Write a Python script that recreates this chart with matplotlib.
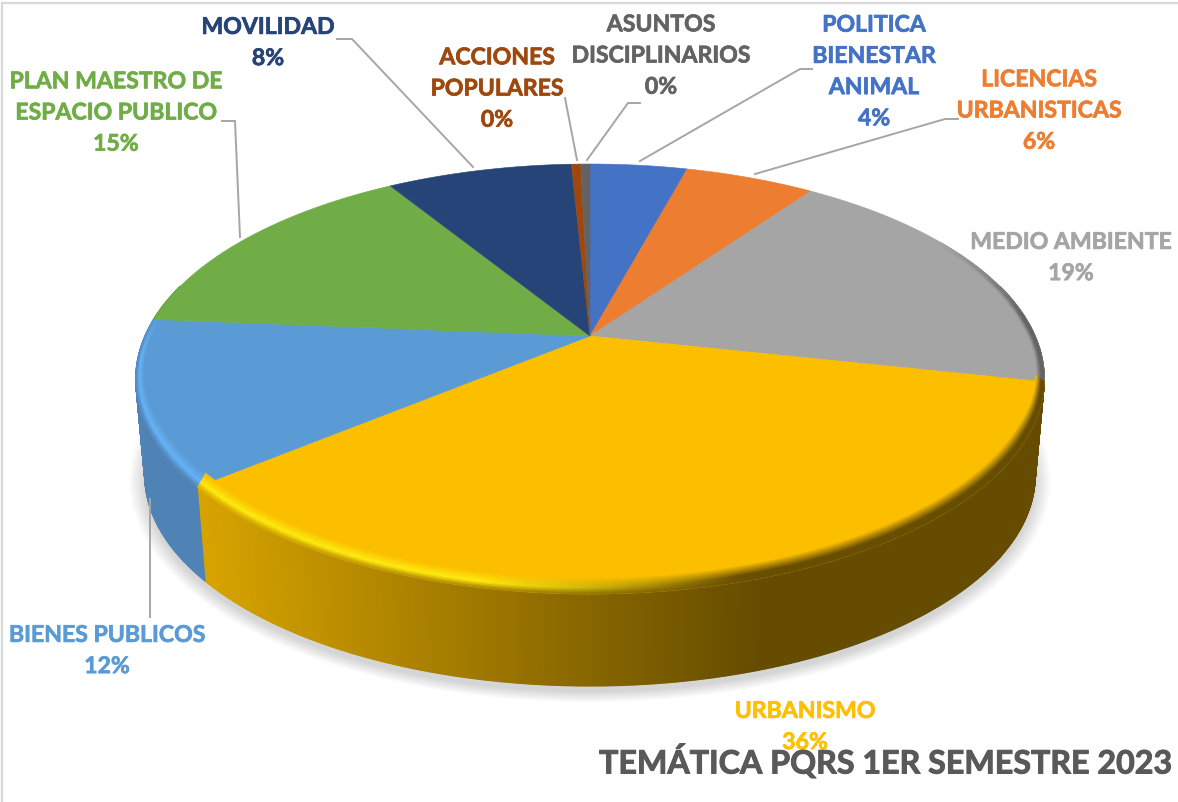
#!/usr/bin/env python3
"""Tematica PQRS pie, drawn as a tilted 3D disc."""

import matplotlib

matplotlib.use("Agg")
import matplotlib.patheffects as pe
import matplotlib.pyplot as plt
import numpy as np
from matplotlib.collections import PolyCollection
from matplotlib.patches import Polygon

plt.rcParams["font.family"] = ["Lato", "DejaVu Sans"]

# clockwise from twelve o'clock
categories = [
    "POLITICA\nBIENESTAR\nANIMAL",
    "LICENCIAS\nURBANISTICAS",
    "MEDIO AMBIENTE",
    "URBANISMO",
    "BIENES PUBLICOS",
    "PLAN MAESTRO DE\nESPACIO PUBLICO",
    "MOVILIDAD",
    "ACCIONES\nPOPULARES",
    "ASUNTOS\nDISCIPLINARIOS",
]
values = [4.2, 5.6, 18.6, 35.6, 12.3, 14.9, 8.0, 0.4, 0.4]
colors = ["#4472C4", "#ED7D31", "#A5A5A5", "#FBBF00", "#5B9BD5", "#70AD47", "#264478", "#9E480E", "#636363"]
text_colors = ["#4472C4", "#ED7D31", "#A5A5A5", "#FFC000", "#5B9BD5", "#70AD47", "#264478", "#9E480E", "#636363"]
bright = ["#5A90F0", "#FF9A40", "#C8C8C8", "#FFEC10", "#66B4F8", "#88D055", "#3060A0", "#C06010", "#808080"]
side_left = ["#3A62A8", "#C96A28", "#8C8C8C", "#D6A300", "#4F82B5", "#5F933C", "#203A66", "#863D0C", "#545454"]
side_right = ["#2A4680", "#904C1C", "#646464", "#654C00", "#4F82B5", "#446B2B", "#172A4A", "#602C08", "#3C3C3C"]
title = "TEMÁTICA PQRS 1ER SEMESTRE 2023"

label_pos = [(874, 73), (1039, 112), (1071, 259), (805, 728), (107, 652), (116, 114), (268, 44), (497, 90), (661, 57)]
leaders = [
    [(812, 70), (800, 70), (640, 162)],
    [(958, 120), (945, 120), (755, 175)],
    None,
    None,
    [(150, 500), (150, 618)],
    [(222, 122), (235, 122), (240, 238)],
    [(337, 40), (352, 40), (473, 168)],
    [(565, 99), (577, 161)],
    [(640, 104), (628, 104), (587, 161)],
]

CX, CY = 590, 337
RX, RY, K = 445, 206.4, 0.2
DEPTH, SHRINK = 97, 0.98


def project(theta, r=1.0, z=0.0):
    x = r * np.sin(theta)
    y = r * np.cos(theta)
    w = 1 + K * y
    s = 1 - (1 - SHRINK) * z
    return CX + RX * x / w * s, CY - RY * y / w * s + DEPTH * z


def bevel_point(theta, t):
    # t = 0 inner edge of the roll-over, t = 1 the rim itself
    px, py = project(theta, 1 - 0.018 * (1 - t))
    lift = np.clip((0.05 - np.cos(theta)) / 0.5, 0, 1)
    return px, py - 11 * (1 - t) * lift


def rgb(c):
    return np.array(matplotlib.colors.to_rgb(c))


def mix(a, b, t):
    return a + (b - a) * t


fig = plt.figure(figsize=(11.78, 8.03), dpi=100)
ax = fig.add_axes([0, 0, 1, 1])
ax.set_xlim(0, 1178)
ax.set_ylim(803, 0)
ax.axis("off")

# chart frame, only top and left are in view
ax.plot([2, 2, 1178], [803, 4, 4], color="#d9d9d9", lw=1.6, zorder=1, solid_joinstyle="miter")

# soft shadow under the disc
circle = np.linspace(0, 2 * np.pi, 361)
sx, sy = project(circle, 1.0, 1.0)
mx, my = sx.mean(), (sy.max() + sy.min()) / 2
for grow in np.linspace(1.0, 0.0, 14):
    ax.add_patch(Polygon(np.c_[mx + (sx - mx) * (1 + 0.035 * grow), my + (sy - my) * (1 + 0.05 * grow) + 6],
                         fc="#000000", ec="none", alpha=0.013, zorder=1))

edges = np.r_[0, np.cumsum(values)] / np.sum(values) * 2 * np.pi

# rim wall
for i in range(len(values)):
    th = np.r_[np.arange(edges[i], edges[i + 1], 0.006), edges[i + 1]]
    quads, cols = [], []
    for a, b in zip(th[:-1], th[1:]):
        if np.cos(a) > 0.25 and np.cos(b) > 0.25:
            continue
        quads.append([project(a), project(b), project(b, z=1), project(a, z=1)])
        t = np.clip((project(a)[0] - 205) / 555, 0, 1)
        cols.append(mix(rgb(side_left[i]), rgb(side_right[i]), t))
    if quads:
        ax.add_collection(PolyCollection(quads, facecolors=cols, edgecolors=cols, linewidths=1.0, zorder=2))

# top face
for i in range(len(values)):
    th = np.linspace(edges[i], edges[i + 1], max(int(values[i] * 12), 8))
    px, py = project(th)
    ax.add_patch(Polygon(np.c_[np.r_[CX, px], np.r_[CY, py]], fc=colors[i], ec=colors[i], lw=0.4, zorder=3))

# bevel where the top face rolls over into the wall
steps = np.linspace(0, 1, 13)
for i in range(len(values)):
    th = np.r_[np.arange(edges[i], edges[i + 1], 0.006), edges[i + 1]]
    quads, cols = [], []
    for a, b in zip(th[:-1], th[1:]):
        y = np.cos(a)
        strength = np.clip((0.12 - y) / 0.2, 0, 1)
        dark_edge = np.clip((0.5 - y) / 0.4, 0, 1) * np.clip((np.sin(a) - 0.8) / 0.1, 0, 1)
        strength = max(strength, dark_edge)
        if strength <= 0:
            continue
        x_mid = project(a)[0]
        shift = np.clip((x_mid - 480) / 260, 0, 1)
        wall = mix(rgb(side_left[i]), rgb(side_right[i]), np.clip((x_mid - 205) / 555, 0, 1))
        hi = mix(rgb(bright[i]), wall, shift)
        for t0, t1 in zip(steps[:-1], steps[1:]):
            if t0 < 0.6:
                c = mix(rgb(colors[i]), hi, t0 / 0.6)
            else:
                c = mix(hi, wall, (t0 - 0.6) / 0.4)
            c = mix(rgb(colors[i]), c, strength)
            quads.append([bevel_point(a, t0), bevel_point(b, t0), bevel_point(b, t1), bevel_point(a, t1)])
            cols.append(c)
    if quads:
        ax.add_collection(PolyCollection(quads, facecolors=cols, edgecolors=cols, linewidths=0.4, zorder=4))

# leader lines
for pts in leaders:
    if pts is not None:
        ax.plot(*zip(*pts), color="#a6a6a6", lw=1.4, zorder=5, solid_joinstyle="miter")

# labels
for name, v, pos, c in zip(categories, values, label_pos, text_colors):
    ax.text(pos[0], pos[1], f"{name}\n{round(v)}%", color=c, fontsize=16.6, fontweight="bold",
            ha="center", va="center", linespacing=1.6, zorder=6,
            path_effects=[pe.withStroke(linewidth=0.5, foreground=c)])

ax.text(886, 762, title, color="#595959", fontsize=23.2, fontweight="bold", ha="center", va="center", zorder=7,
        path_effects=[pe.withStroke(linewidth=0.7, foreground="#595959")])

fig.savefig("out.png", dpi=100, facecolor="white")
plt.close()
